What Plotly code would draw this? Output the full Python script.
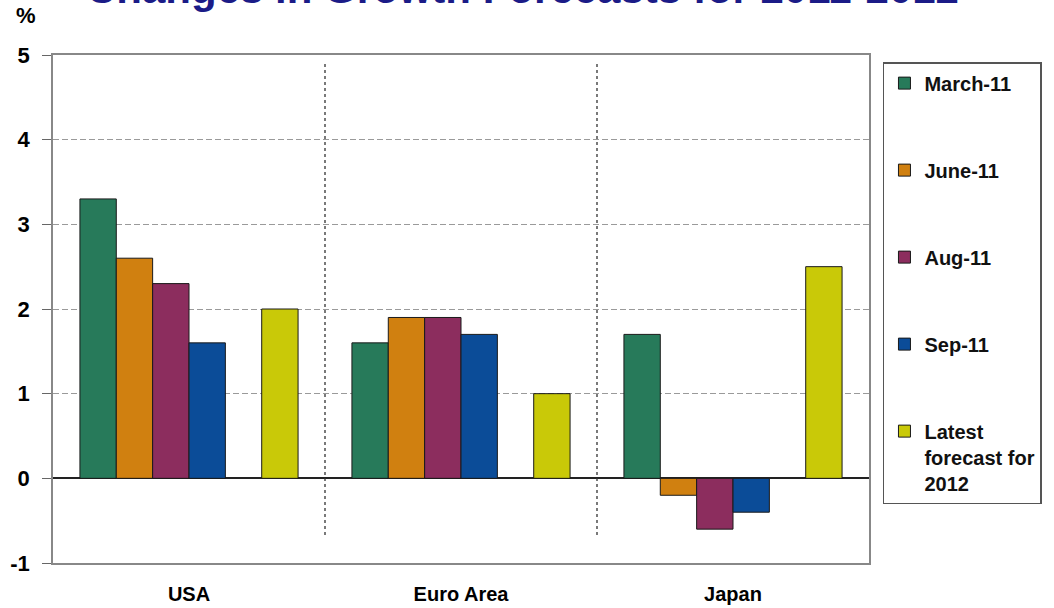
import plotly.graph_objects as go

categories = ["USA", "Euro Area", "Japan"]
series_names = ["March-11", "June-11", "Aug-11", "Sep-11", "Latest<br>forecast for<br>2012"]
march_11 = [3.3, 1.6, 1.7]
june_11 = [2.6, 1.9, -0.2]
aug_11 = [2.3, 1.9, -0.6]
sep_11 = [1.6, 1.7, -0.4]
latest_2012 = [2.0, 1.0, 2.5]
y_ticks = [-1, 0, 1, 2, 3, 4, 5]

colors = ["#277A5A", "#D08010", "#8C2D5E", "#0B4C98", "#C9C908"]
series_values = [march_11, june_11, aug_11, sep_11, latest_2012]

FONT = "Arial, Liberation Sans, sans-serif"
xpos = list(range(len(categories)))

fig = go.Figure()
for i, (name, vals, col) in enumerate(zip(series_names, series_values, colors)):
    if i == 4:
        # empty slot between Sep-11 and the 2012 forecast
        fig.add_trace(go.Bar(x=xpos, y=[None] * len(categories), showlegend=False,
                             hoverinfo="skip", legendgroup="blank"))
    fig.add_trace(go.Bar(
        x=xpos, y=vals, name=name, legendgroup=f"g{i}",
        marker=dict(color=col, line=dict(color="#1a1a1a", width=1)),
    ))

shapes = []
for xd in [0.5, 1.5]:
    shapes.append(dict(type="line", xref="x", yref="y", x0=xd, x1=xd, y0=-0.67, y1=4.92,
                       line=dict(color="#333", width=1.3, dash="3px,3px")))

PLOT_H = 608 - 55 - 45
fig.update_layout(
    width=1054, height=608,
    margin=dict(l=53, r=183, t=55, b=45),
    paper_bgcolor="white", plot_bgcolor="white",
    barmode="group", bargap=0.198, bargroupgap=0,
    font=dict(family=FONT, color="black"),
    shapes=shapes,
    legend=dict(
        x=1.0171, y=0.986, xanchor="left", yanchor="top",
        bordercolor="#555", borderwidth=1.5, bgcolor="white",
        font=dict(family=FONT, size=20, color="#111", weight="bold"),
        tracegroupgap=58, valign="top",
    ),
    annotations=[
        dict(text="<b>Changes in Growth Forecasts for 2011-2012</b>", xref="paper", yref="paper",
             x=(524 - 53) / 818, y=1 + (55 - 14) / PLOT_H, xanchor="center", yanchor="bottom",
             showarrow=False, font=dict(family=FONT, size=42, color="#1B1B87")),
        dict(text="<b>%</b>", xref="paper", yref="paper", x=(26 - 53) / 818, y=1 + (55 - 30) / PLOT_H,
             xanchor="center", yanchor="bottom", showarrow=False,
             font=dict(family=FONT, size=22, color="black")),
    ],
)
fig.update_xaxes(
    range=[-0.5, 2.5], tickmode="array", tickvals=xpos, ticktext=[f"<b>{c}</b>" for c in categories],
    tickfont=dict(family=FONT, size=20, color="black"), ticks="", ticklabelstandoff=12,
    automargin=False,
    showline=True, linecolor="#888", linewidth=1.5, mirror=True, showgrid=False, zeroline=False,
)
fig.update_yaxes(
    range=[-1, 5], tickvals=y_ticks, ticktext=[f"<b>{v}</b>" for v in y_ticks],
    tickfont=dict(family=FONT, size=22, color="black"), automargin=False,
    ticks="outside", ticklen=9, tickcolor="#666", tickwidth=1.2, ticklabelstandoff=8,
    showline=True, linecolor="#888", linewidth=1.5, mirror=True,
    showgrid=True, gridcolor="#9a9a9a", griddash="6px,3px", gridwidth=1,
    zeroline=True, zerolinecolor="#222", zerolinewidth=1.5,
)
fig.write_html("out.html")
